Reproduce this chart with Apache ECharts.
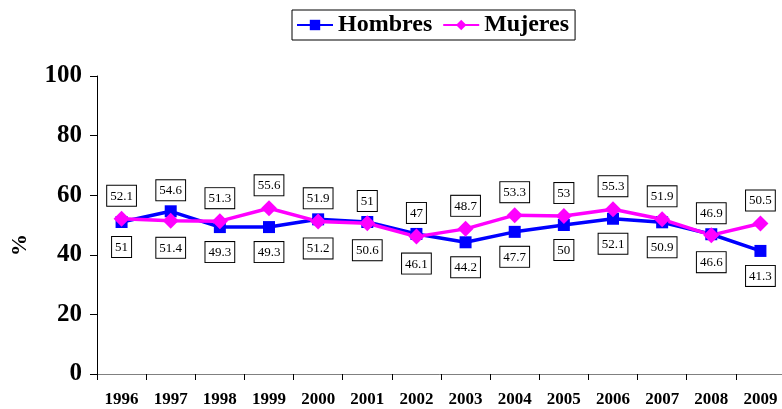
<!DOCTYPE html>
<html><head><meta charset="utf-8">
<script src="https://cdn.jsdelivr.net/npm/echarts@6/dist/echarts.min.js"></script>
<style>html,body{margin:0;padding:0;background:#fff}#c{width:782px;height:409px}</style>
</head><body><div id="c"></div>
<script>
var years = ['1996','1997','1998','1999','2000','2001','2002','2003','2004','2005','2006','2007','2008','2009'];
var hombres = [51, 54.6, 49.3, 49.3, 51.9, 51, 47, 44.2, 47.7, 50, 52.1, 50.9, 46.9, 41.3];
var mujeres = [52.1, 51.4, 51.3, 55.6, 51.2, 50.6, 46.1, 48.7, 53.3, 53, 55.3, 51.9, 46.6, 50.5];
var yTicks = [0, 20, 40, 60, 80, 100];

var serif = '"Liberation Serif","Times New Roman",serif';
function build(vals, other) {
  return vals.map(function (v, i) {
    var above = v >= other[i];
    return { value: v, label: { position: above ? 'top' : 'bottom', distance: above ? 5 : 9 } };
  });
}
var labelStyle = {
  show: true, fontFamily: serif, fontSize: 13, color: '#000',
  backgroundColor: '#fff', borderColor: '#000', borderWidth: 1, padding: [4, 3, 3, 3]
};
var chart = echarts.init(document.getElementById('c'));
chart.setOption({
  animation: false,
  legend: {
    top: 10, left: 292,
    data: ['Hombres', 'Mujeres'],
    borderColor: '#000', borderWidth: 1, padding: [3, 6, 3, 4], itemGap: 10,
    itemWidth: 36, itemHeight: 13,
    textStyle: { fontFamily: serif, fontSize: 24, fontWeight: 'bold', color: '#000' }
  },
  grid: { left: 97, right: -3, top: 76, bottom: 35, containLabel: false, outerBoundsMode: 'none' },
  xAxis: {
    type: 'category', data: years, boundaryGap: true,
    axisLine: { lineStyle: { color: '#808080', width: 1 } },
    axisTick: { show: true, length: 6, lineStyle: { color: '#000' } },
    axisLabel: { fontFamily: serif, fontSize: 17, fontWeight: 'bold', color: '#000', margin: 17 }
  },
  yAxis: {
    type: 'value', min: yTicks[0], max: yTicks[yTicks.length - 1], interval: 20,
    name: '%', nameLocation: 'middle', nameGap: 66, nameRotate: 90,
    nameTextStyle: { fontFamily: serif, fontSize: 22, fontWeight: 'bold', color: '#000', padding: [0, 40, 0, 0] },
    axisLine: { show: true, lineStyle: { color: '#000', width: 1 } },
    axisTick: { show: true, length: 7, lineStyle: { color: '#000' } },
    splitLine: { show: false },
    axisLabel: { fontFamily: serif, fontSize: 25, fontWeight: 'bold', color: '#000', margin: 15 }
  },
  series: [
    {
      name: 'Hombres', type: 'line', data: build(hombres, mujeres),
      symbol: 'rect', symbolSize: 12,
      lineStyle: { color: '#0000FF', width: 3.5 }, itemStyle: { color: '#0000FF' },
      label: labelStyle
    },
    {
      name: 'Mujeres', type: 'line', data: build(mujeres, hombres),
      symbol: 'diamond', symbolSize: 16,
      lineStyle: { color: '#FF00FF', width: 3.5 }, itemStyle: { color: '#FF00FF' },
      label: labelStyle
    }
  ]
});
</script></body></html>
